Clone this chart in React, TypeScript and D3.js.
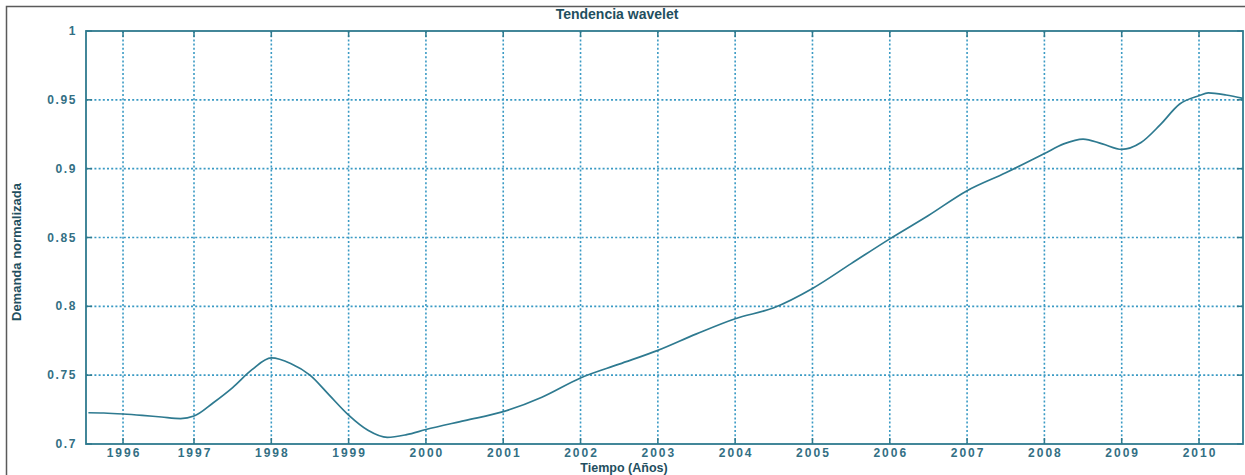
import React, { useEffect, useRef } from "react";
import * as d3 from "d3";

// Wavelet trend of normalized demand
const years = [
  1995.634, 1995.833, 1996.082, 1996.33, 1996.578, 1996.827, 1997, 1997.25, 1997.5, 1997.75,
  1998, 1998.25, 1998.5, 1998.75, 1999, 1999.25, 1999.5, 1999.75, 2000, 2000.5,
  2001, 2001.5, 2002, 2002.5, 2003, 2003.5, 2004, 2004.5, 2005, 2005.5,
  2006, 2006.5, 2007, 2007.5, 2008, 2008.25, 2008.5, 2008.75, 2009, 2009.25,
  2009.5, 2009.75, 2010, 2010.12, 2010.35, 2010.569,
];
const demand = [
  0.7227, 0.7225, 0.7218, 0.7208, 0.7196, 0.7185, 0.7203, 0.730, 0.741, 0.754,
  0.7625, 0.7585, 0.750, 0.7355, 0.721, 0.710, 0.7048, 0.7068, 0.7105, 0.717,
  0.7235, 0.734, 0.748, 0.758, 0.768, 0.780, 0.791, 0.799, 0.813, 0.831,
  0.849, 0.866, 0.884, 0.897, 0.911, 0.918, 0.9215, 0.918, 0.914, 0.919,
  0.932, 0.947, 0.953, 0.955, 0.9535, 0.951,
];
// tick positions (time axis) and their labels
const xTickValues = [1996.082, 1997, 1998, 1999, 2000, 2001, 2002, 2003, 2004, 2005, 2006, 2007, 2008, 2009, 2010];
const xTickLabels = ["1996", "1997", "1998", "1999", "2000", "2001", "2002", "2003", "2004", "2005", "2006", "2007", "2008", "2009", "2010"];
const yTicks = [0.7, 0.75, 0.8, 0.85, 0.9, 0.95, 1];

const title = "Tendencia wavelet";
const xLabel = "Tiempo (Años)";
const yLabel = "Demanda normalizada";

const W = 1245;
const H = 475;
const left = 86;
const right = 1243;
const top = 31;
const bottom = 444;

const axisColor = "#2f7a8e";
const gridColor = "#3a9ac4";
const textColor = "#336f84";
const font = "'Liberation Sans', Arial, sans-serif";

export default function App() {
  const ref = useRef<SVGSVGElement | null>(null);

  useEffect(() => {
    const svg = d3.select(ref.current);
    svg.selectAll("*").remove();

    const x = d3.scaleLinear().domain([1995.603, 2010.569]).range([left, right]);
    const y = d3.scaleLinear().domain([0.7, 1]).range([bottom, top]);

    svg.append("rect").attr("width", W).attr("height", H).attr("fill", "#fff");

    // outer frame
    svg
      .append("rect")
      .attr("x", 6.5)
      .attr("y", 6.5)
      .attr("width", W + 20)
      .attr("height", H + 20)
      .attr("fill", "none")
      .attr("stroke", "#5a5a5a")
      .attr("stroke-width", 1.5);

    // dotted grid
    const grid = svg.append("g").attr("stroke", gridColor).attr("stroke-width", 1.6).attr("stroke-dasharray", "2,2.2");
    grid
      .selectAll("line.v")
      .data(xTickValues)
      .join("line")
      .attr("class", "v")
      .attr("x1", (d) => x(d))
      .attr("x2", (d) => x(d))
      .attr("y1", top)
      .attr("y2", bottom);
    grid
      .selectAll("line.h")
      .data(yTicks.filter((d) => d > 0.7 && d < 1))
      .join("line")
      .attr("class", "h")
      .attr("x1", left)
      .attr("x2", right)
      .attr("y1", (d) => y(d))
      .attr("y2", (d) => y(d));

    // tick marks on all four sides
    const ticks = svg.append("g").attr("stroke", axisColor).attr("stroke-width", 1.5);
    xTickValues.forEach((t) => {
      ticks.append("line").attr("x1", x(t)).attr("x2", x(t)).attr("y1", bottom).attr("y2", bottom - 6);
      ticks.append("line").attr("x1", x(t)).attr("x2", x(t)).attr("y1", top).attr("y2", top + 6);
    });
    yTicks.forEach((t) => {
      ticks.append("line").attr("x1", left).attr("x2", left + 6).attr("y1", y(t)).attr("y2", y(t));
      ticks.append("line").attr("x1", right).attr("x2", right - 6).attr("y1", y(t)).attr("y2", y(t));
    });

    // axes box
    svg
      .append("rect")
      .attr("x", left)
      .attr("y", top)
      .attr("width", right - left)
      .attr("height", bottom - top)
      .attr("fill", "none")
      .attr("stroke", axisColor)
      .attr("stroke-width", 1.8);

    // trend line
    const line = d3
      .line<number>()
      .x((_, i) => x(years[i]))
      .y((d) => y(d))
      .curve(d3.curveMonotoneX);
    svg
      .append("path")
      .attr("d", line(demand))
      .attr("fill", "none")
      .attr("stroke", "#2e7a90")
      .attr("stroke-width", 1.7);

    // tick labels
    const lab = svg.append("g").attr("fill", textColor).attr("font-family", font).attr("font-weight", "bold").attr("font-size", 12);
    lab
      .selectAll("text.x")
      .data(xTickValues)
      .join("text")
      .attr("class", "x")
      .attr("x", (d) => x(d) + 1)
      .attr("y", 457)
      .attr("text-anchor", "middle")
      .attr("letter-spacing", 2)
      .text((_, i) => xTickLabels[i]);
    lab
      .selectAll("text.y")
      .data(yTicks)
      .join("text")
      .attr("class", "y")
      .attr("x", 77)
      .attr("y", (d) => y(d) + 4)
      .attr("text-anchor", "end")
      .attr("letter-spacing", 1.6)
      .text((d) => String(d));

    // titles
    const t = svg.append("g").attr("fill", "#1f4f60").attr("font-family", font).attr("font-weight", "bold");
    t.append("text").attr("x", 617).attr("y", 19).attr("text-anchor", "middle").attr("font-size", 14).text(title);
    t.append("text").attr("x", 624).attr("y", 472).attr("text-anchor", "middle").attr("font-size", 12.5).text(xLabel);
    t.append("text")
      .attr("transform", "translate(21,252) rotate(-90)")
      .attr("text-anchor", "middle")
      .attr("font-size", 13)
      .text(yLabel);
  }, []);

  return <svg ref={ref} width={W} height={H} style={{ position: "absolute", left: 0, top: 0 }} />;
}
